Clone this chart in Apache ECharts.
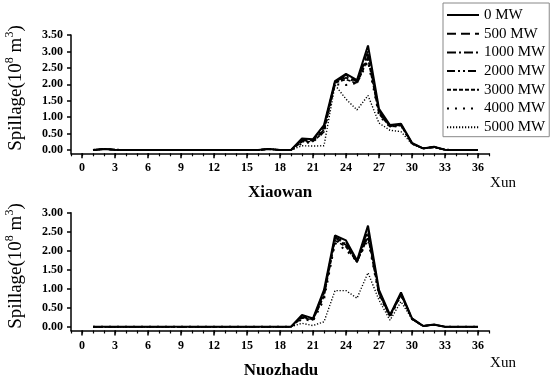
<!DOCTYPE html>
<html><head><meta charset="utf-8">
<script src="https://cdn.jsdelivr.net/npm/echarts@6/dist/echarts.min.js"></script>
<style>html,body{margin:0;padding:0;background:#fff}#c{width:550px;height:382px}</style>
</head><body><div id="c"></div>
<script>
const xun = [1,2,3,4,5,6,7,8,9,10,11,12,13,14,15,16,17,18,19,20,21,22,23,24,25,26,27,28,29,30,31,32,33,34,35,36];
const xTicks = [0,3,6,9,12,15,18,21,24,27,30,33,36];
const yTicksTop = [0,0.5,1,1.5,2,2.5,3,3.5];
const yTicksBottom = [0,0.5,1,1.5,2,2.5,3];
const seriesNames = ['0 MW','500 MW','1000 MW','2000 MW','3000 MW','4000 MW','5000 MW'];

const xw0    = [0,0.03,0.01,0,0,0,0,0,0,0,0,0,0,0,0,0,0.03,0,0,0.35,0.33,0.76,2.10,2.32,2.13,3.18,1.25,0.76,0.80,0.22,0.05,0.10,0.01,0,0,0];
const xw500  = [0,0.03,0.01,0,0,0,0,0,0,0,0,0,0,0,0,0,0.03,0,0,0.33,0.31,0.72,2.08,2.28,2.10,3.02,1.20,0.74,0.78,0.21,0.05,0.09,0.01,0,0,0];
const xw1000 = [0,0.03,0.01,0,0,0,0,0,0,0,0,0,0,0,0,0,0.03,0,0,0.30,0.30,0.68,2.07,2.25,2.08,2.92,1.17,0.73,0.77,0.20,0.05,0.09,0.01,0,0,0];
const xw2000 = [0,0.03,0.01,0,0,0,0,0,0,0,0,0,0,0,0,0,0.03,0,0,0.28,0.28,0.62,2.06,2.20,2.05,2.85,1.14,0.72,0.76,0.20,0.05,0.09,0.01,0,0,0];
const xw3000 = [0,0.03,0.01,0,0,0,0,0,0,0,0,0,0,0,0,0,0.03,0,0,0.25,0.26,0.55,2.04,2.15,2.02,2.78,1.10,0.71,0.75,0.19,0.05,0.09,0.01,0,0,0];
const xw4000 = [0,0.03,0.01,0,0,0,0,0,0,0,0,0,0,0,0,0,0.03,0,0,0.20,0.25,0.55,2.00,1.98,2.04,2.70,1.05,0.70,0.74,0.19,0.05,0.08,0.01,0,0,0];
const xw5000 = [0,0.03,0.01,0,0,0,0,0,0,0,0,0,0,0,0,0,0.03,0,0,0.13,0.12,0.13,1.98,1.55,1.22,1.66,0.82,0.60,0.56,0.18,0.04,0.08,0.01,0,0,0];

const nz0    = [0,0,0,0,0,0,0,0,0,0,0,0,0,0,0,0,0,0,0,0.31,0.22,0.97,2.40,2.27,1.74,2.66,0.97,0.31,0.90,0.22,0.02,0.06,0,0,0,0];
const nz500  = [0,0,0,0,0,0,0,0,0,0,0,0,0,0,0,0,0,0,0,0.29,0.21,0.92,2.36,2.22,1.72,2.55,0.93,0.30,0.88,0.21,0.02,0.05,0,0,0,0];
const nz1000 = [0,0,0,0,0,0,0,0,0,0,0,0,0,0,0,0,0,0,0,0.27,0.20,0.88,2.33,2.18,1.71,2.48,0.90,0.29,0.86,0.21,0.02,0.05,0,0,0,0];
const nz2000 = [0,0,0,0,0,0,0,0,0,0,0,0,0,0,0,0,0,0,0,0.25,0.19,0.84,2.30,2.15,1.70,2.42,0.88,0.28,0.85,0.20,0.02,0.05,0,0,0,0];
const nz3000 = [0,0,0,0,0,0,0,0,0,0,0,0,0,0,0,0,0,0,0,0.23,0.18,0.80,2.27,2.10,1.70,2.36,0.86,0.27,0.84,0.20,0.02,0.05,0,0,0,0];
const nz4000 = [0,0,0,0,0,0,0,0,0,0,0,0,0,0,0,0,0,0,0,0.20,0.15,0.72,2.20,2.02,1.72,2.30,0.83,0.26,0.82,0.20,0.02,0.05,0,0,0,0];
const nz5000 = [0,0,0,0,0,0,0,0,0,0,0,0,0,0,0,0,0,0,0,0.09,0.03,0.13,0.95,0.95,0.75,1.42,0.70,0.17,0.66,0.20,0.02,0.05,0,0,0,0];

const topData = [xw0,xw500,xw1000,xw2000,xw3000,xw4000,xw5000];
const botData = [nz0,nz500,nz1000,nz2000,nz3000,nz4000,nz5000];
const styles = [
  {type:'solid', width:2},
  {type:[9,5], width:1.6},
  {type:[9,3,2,3], width:1.6},
  {type:[8,3,2,3,2,3], width:1.6},
  {type:[4,2], width:1.6},
  {type:[2,6], width:2},
  {type:[1.2,1.8], width:1.4}
];
const F = 'Liberation Serif';
const tickLab = {fontFamily:F, fontWeight:'bold', fontSize:12, color:'#000'};

function xAxes(gi){
  return [
    {type:'value', gridIndex:gi, position:'bottom', min:-1, max:37,
     axisLine:{show:true, onZero:false, lineStyle:{color:'#000', width:1.5}},
     axisTick:{show:true, customValues:xTicks, length:5, lineStyle:{color:'#000', width:1.5}},
     axisLabel:{customValues:xTicks, margin:9, ...tickLab},
     splitLine:{show:false}},
    {type:'value', gridIndex:gi, position:'bottom', min:-1, max:37, interval:1,
     axisLine:{show:false, onZero:false},
     axisTick:{show:true, length:3, lineStyle:{color:'#000', width:1.2}},
     axisLabel:{show:false}, splitLine:{show:false}}
  ];
}
function yAxis(gi, max, ticks){
  return {type:'value', gridIndex:gi, min:-0.1, max:max,
    axisLine:{show:true, onZero:false, lineStyle:{color:'#000', width:1.5}},
    axisTick:{show:true, customValues:ticks, length:4, lineStyle:{color:'#000', width:1.5}},
    axisLabel:{customValues:ticks, margin:8, formatter:v=>v.toFixed(2), ...tickLab},
    splitLine:{show:false}};
}
const series = [];
[topData, botData].forEach((set, gi)=>{
  set.forEach((arr, i)=>{
    series.push({type:'line', name:seriesNames[i], xAxisIndex:gi*2, yAxisIndex:gi,
      data: xun.map((x,k)=>[x, arr[k]]), symbol:'none', silent:true, animation:false,
      color:'#000', itemStyle:{color:'#000'},
      lineStyle:{color:'#000', ...styles[i]}, z: 10 - i});
  });
});
const yTitle = '{a|Spillage(10}{s|8}{a| m}{s|3}{a|)}';
const rich = {a:{fontFamily:F, fontSize:19, color:'#000', verticalAlign:'bottom', lineHeight:22},
              s:{fontFamily:F, fontSize:12, color:'#000', verticalAlign:'top', lineHeight:22}};
const option = {
  animation:false,
  grid:[{left:71, top:35, width:418, height:118.3},
        {left:71, top:212.7, width:418, height:117.8}],
  xAxis:[...xAxes(0), ...xAxes(1)],
  yAxis:[yAxis(0,3.5,yTicksTop), yAxis(1,3,yTicksBottom)],
  legend:{data:seriesNames, orient:'vertical', left:443, top:3, itemWidth:32, itemHeight:15, itemGap:3.7,
    padding:[4.5,4,2,3], borderColor:'#888', borderWidth:1,
    itemStyle:{opacity:0},
    textStyle:{fontFamily:F, fontSize:15, color:'#000'}},
  series:series,
  graphic:[
    {type:'text', x:15, y:88, rotation:Math.PI/2, style:{text:yTitle, rich:rich, align:'center', verticalAlign:'middle'}},
    {type:'text', x:15, y:266, rotation:Math.PI/2, style:{text:yTitle, rich:rich, align:'center', verticalAlign:'middle'}},
    {type:'text', x:280, y:193, style:{text:'Xiaowan', fontFamily:F, fontWeight:'bold', fontSize:17, fill:'#000', align:'center', verticalAlign:'middle'}},
    {type:'text', x:281, y:371, style:{text:'Nuozhadu', fontFamily:F, fontWeight:'bold', fontSize:17, fill:'#000', align:'center', verticalAlign:'middle'}},
    {type:'text', x:503, y:183, style:{text:'Xun', fontFamily:F, fontSize:15, fill:'#000', align:'center', verticalAlign:'middle'}},
    {type:'text', x:503, y:363, style:{text:'Xun', fontFamily:F, fontSize:15, fill:'#000', align:'center', verticalAlign:'middle'}}
  ]
};
echarts.init(document.getElementById('c')).setOption(option);
</script></body></html>
